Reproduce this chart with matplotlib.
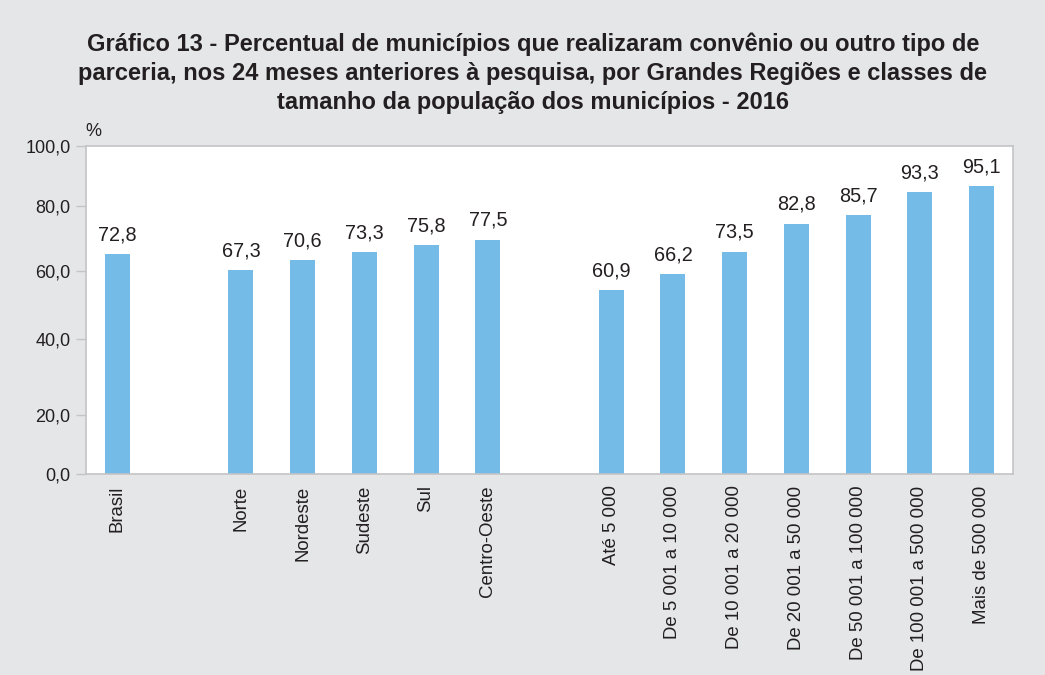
import matplotlib
matplotlib.use("Agg")
import matplotlib.pyplot as plt

plt.rcParams['font.family'] = ['Liberation Sans', 'DejaVu Sans']

categories = ["Brasil", "Norte", "Nordeste", "Sudeste", "Sul", "Centro-Oeste",
              "Até 5 000", "De 5 001 a 10 000", "De 10 001 a 20 000",
              "De 20 001 a 50 000", "De 50 001 a 100 000",
              "De 100 001 a 500 000", "Mais de 500 000"]
values = [72.8, 67.3, 70.6, 73.3, 75.8, 77.5,
          60.9, 66.2, 73.5, 82.8, 85.7, 93.3, 95.1]
slots = [0, 2, 3, 4, 5, 6, 8, 9, 10, 11, 12, 13, 14]
ytick_labels = ["0,0", "20,0", "40,0", "60,0", "80,0", "100,0"]
# tick positions as they appear on the reference's (uneven) axis
ytick_pos = [0, 19.7, 44.6, 67.2, 88.7, 108.5]

title = ("Gráfico 13 - Percentual de municípios que realizaram convênio ou outro tipo de\n"
         "parceria, nos 24 meses anteriores à pesquisa, por Grandes Regiões e classes de\n"
         "tamanho da população dos municípios - 2016")

BG = "#e5e6e8"
BAR = "#74bce7"
TXT = "#231f20"
EDGE = "#c4c4c6"

fig = plt.figure(figsize=(10.45, 6.75), dpi=100, facecolor=BG)
ax = fig.add_axes([86/1045, 1 - 474.3/675, (1013-86)/1045, (474.3-145.7)/675])
ax.set_facecolor("white")

ax.bar(slots, values, width=0.405, color=BAR, zorder=2)
for x, v in zip(slots, values):
    ax.annotate(f"{v:.1f}".replace(".", ","), (x, v), xytext=(0, 7),
                textcoords="offset points", ha="center", va="bottom",
                fontsize=14.3, color=TXT)

ax.set_xlim(-0.51, 14.51)
ax.set_ylim(0, 108.5)
ax.set_yticks(ytick_pos)
ax.set_yticklabels(ytick_labels, fontsize=13, color=TXT)
ax.set_xticks(slots)
ax.set_xticklabels(categories, rotation=90, fontsize=13.4, color=TXT,
                   va="top", ha="center")
ax.tick_params(axis="x", length=0, pad=8)
ax.tick_params(axis="y", length=7, width=1, color=EDGE, pad=4)
for s in ax.spines.values():
    s.set_color(EDGE)
    s.set_linewidth(1.2)

fig.text(93/1045, 1 - 132/675, "%", fontsize=13, color=TXT, ha="center", va="center")
fig.text(533/1045, 1 - 73/675, title, fontsize=17, fontweight="bold", color=TXT,
         ha="center", va="center", linespacing=1.34)

fig.savefig("out.png", dpi=100, facecolor=BG)
